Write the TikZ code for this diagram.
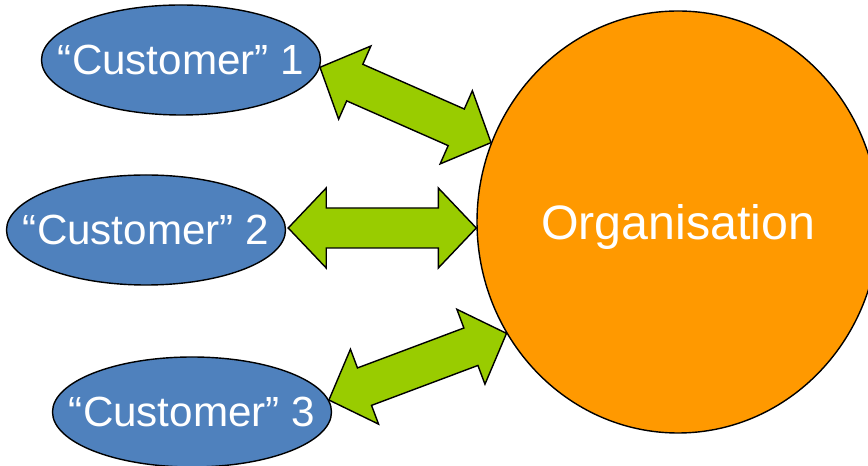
\documentclass[tikz,border=0pt]{standalone}
\usepackage{fontspec}
\setmainfont{Liberation Sans}
\usetikzlibrary{calc,shapes.geometric}
\definecolor{custblue}{HTML}{4F81BD}
\definecolor{orgorange}{HTML}{FF9900}
\definecolor{linkgreen}{HTML}{99CC00}
\tikzset{
customer/.style={draw,ellipse,fill=custblue,line width=.8pt,minimum width=5.58cm,minimum height=2.2cm,inner sep=0pt},
custtext/.style={text=white,inner sep=0pt,font=\fontsize{24}{28}\selectfont},
organisation/.style={draw,ellipse,fill=orgorange,text=white,line width=.8pt,minimum width=8.04cm,minimum height=8.44cm,inner sep=0pt,text depth=0pt,font=\fontsize{27.5}{32}\selectfont},
link/.style={draw,fill=linkgreen,line width=.8pt,line join=miter}
}
% fat two-headed arrow from #1 to #2
\newcommand{\fatlink}[2]{%
\filldraw[link] (#1) -- ($(#1)!.76cm!(#2)!.8cm!90:(#2)$) -- ($(#1)!.76cm!(#2)!.4cm!90:(#2)$)
 -- ($(#2)!.76cm!(#1)!.4cm!-90:(#1)$) -- ($(#2)!.76cm!(#1)!.8cm!-90:(#1)$) -- (#2)
 -- ($(#2)!.76cm!(#1)!.8cm!90:(#1)$) -- ($(#2)!.76cm!(#1)!.4cm!90:(#1)$)
 -- ($(#1)!.76cm!(#2)!.4cm!-90:(#2)$) -- ($(#1)!.76cm!(#2)!.8cm!-90:(#2)$) -- cycle;}
\begin{document}
\begin{tikzpicture}
\useasboundingbox (0,0) rectangle (17.36,9.3);
\node[organisation](org) at (13.56,4.86){Organisation};
\node[customer,label={[custtext]center:“Customer” 1}](c1) at (3.62,8.10){};
\node[customer,label={[custtext]center:“Customer” 2}](c2) at (2.92,4.70){};
\node[customer,label={[custtext]center:“Customer” 3}](c3) at (3.84,1.06){};
\coordinate (t1a) at (c1.-3);
\coordinate (t1b) at (org.157);
\coordinate (t2a) at ($(c2.east)+(.04,.04)$);
\coordinate (t2b) at (t2a -| org.west);
\coordinate (t3a) at (c3.5);
\coordinate (t3b) at (org.213);
\fatlink{t1a}{t1b}
\fatlink{t2a}{t2b}
\fatlink{t3a}{t3b}
\end{tikzpicture}
\end{document}
